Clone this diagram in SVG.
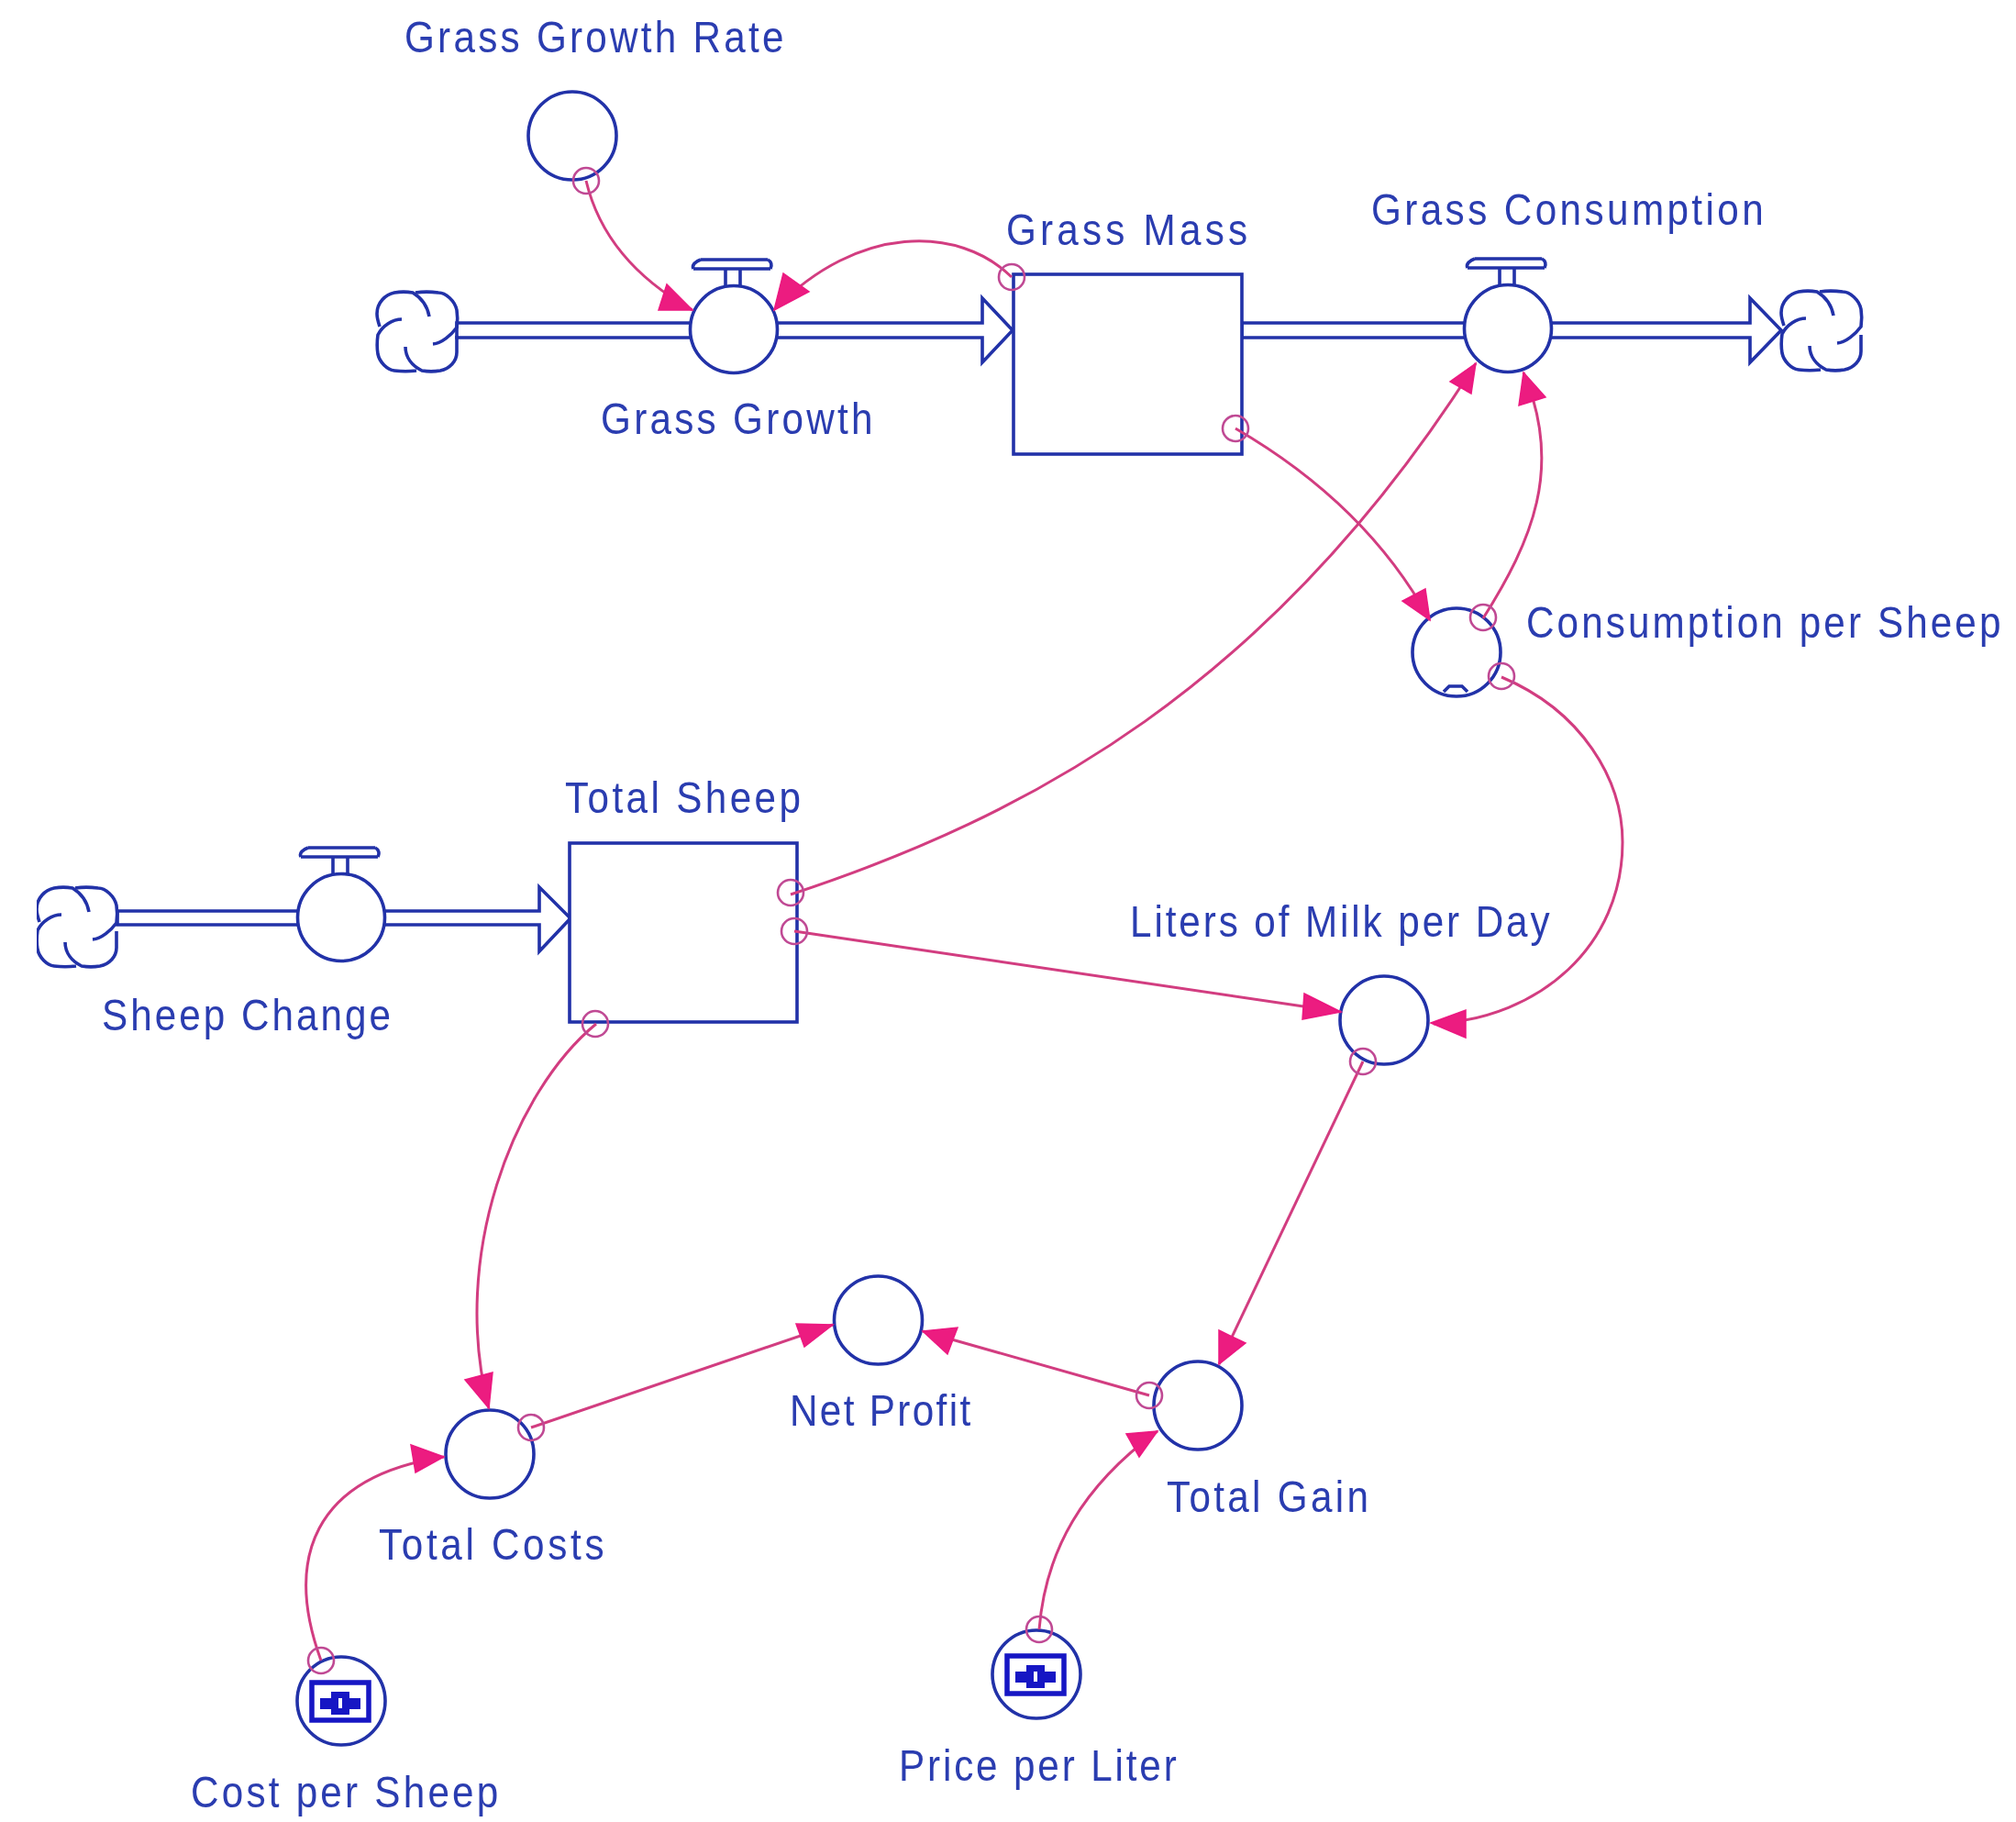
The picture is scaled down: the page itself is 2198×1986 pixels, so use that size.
<svg xmlns="http://www.w3.org/2000/svg" width="2198" height="1986" viewBox="0 0 2198 1986">
<style>
.s{fill:#fff;stroke:#2030a8;stroke-width:3.6}
.o{fill:none;stroke:#2030a8;stroke-width:3.6}
.t{font-family:"Liberation Sans",Arial,sans-serif;font-size:48px;fill:#2c3cb0}
.c{fill:none;stroke:#d23c80;stroke-width:3}
.m{fill:none;stroke:#c04a94;stroke-width:2.6}
.a{fill:#ec1a80;stroke:#ec1a80;stroke-width:1.5}
.k{fill:#1414c4}
.kr{fill:none;stroke:#1414c4;stroke-width:5.5}
</style>
<defs>
<filter id="soft" x="0" y="0" width="100%" height="100%"><feGaussianBlur stdDeviation="0.7"/></filter>
<g id="cloud"><path class="o" d="M68,35C66,24 60,15 50,9C44,8 36,8 30,9C20,11 11,20 11,32C11,36 12,40 14,46M38,38C28,38 17,45 12,55C11,62 11,70 12,76C14,85 22,93 30,94C38,95 46,95 54,94M42,68C42,80 50,89 60,94C66,95 74,95 80,94C90,92 98,84 98,74L98,56M72,65C82,64 92,55 98,47C99,40 99,34 98,28C96,18 86,9 78,9C70,8 60,8 53,9"/></g>
<g id="valve"><circle class="s" r="47.5"/><path class="o" d="M-36,-76H37M-44,-66H40M-44,-66C-46,-70 -42,-74 -36,-76M40,-66C42,-70 41,-74 37,-76M-9,-66V-46M7,-66V-46"/></g>
<g id="const"><circle class="s" r="48"/><rect class="kr" x="-32" y="-20" width="62" height="41"/><path class="k" d="M-23,-3H-11V-10H9V-3H21V9H9V15H-11V9H-23Z"/><rect x="-3" y="-3" width="4" height="11" fill="#fff"/></g>
</defs>
<rect width="2198" height="1986" fill="#fff"/>
<g filter="url(#soft)">
<g id="flows">
<path class="s" d="M498,352H1071V325L1104,360L1071,395V368H498Z"/>
<path class="s" d="M1354,352H1908V325L1942,360L1908,395V368H1354Z"/>
<path class="s" d="M128,993H588V967L622,1001L588,1037V1008H128Z"/>
</g>
<g id="clouds">
<use href="#cloud" transform="translate(400,310)"/>
<use href="#cloud" transform="translate(1931,309)"/>
<use href="#cloud" transform="translate(29,959)"/>
</g>
<g id="grass-growth-rate"><circle class="s" cx="624" cy="148" r="48"/><text class="t" transform="translate(441,57) scale(.88,1)" textLength="470">Grass Growth Rate</text></g>
<g id="grass-growth"><use href="#valve" transform="translate(800,359)"/><text class="t" transform="translate(655,473) scale(.88,1)" textLength="337">Grass Growth</text></g>
<g id="grass-mass"><rect class="s" x="1105" y="299" width="249" height="196"/><text class="t" transform="translate(1097,267) scale(.88,1)" textLength="299">Grass Mass</text></g>
<g id="grass-consumption"><use href="#valve" transform="translate(1644,358)"/><text class="t" transform="translate(1495,245) scale(.88,1)" textLength="486">Grass Consumption</text></g>
<g id="consumption-per-sheep"><circle class="s" cx="1588" cy="711" r="48"/><path class="o" d="M1574,754L1580,748H1594L1600,754"/><text class="t" transform="translate(1664,695) scale(.88,1)" textLength="588">Consumption per Sheep</text></g>
<g id="total-sheep"><rect class="s" x="621" y="919" width="248" height="195"/><text class="t" transform="translate(616,886) scale(.88,1)" textLength="292">Total Sheep</text></g>
<g id="sheep-change"><use href="#valve" transform="translate(372,1000)"/><text class="t" transform="translate(111,1123) scale(.88,1)" textLength="358">Sheep Change</text></g>
<g id="liters"><circle class="s" cx="1509" cy="1112" r="48"/><text class="t" transform="translate(1232,1021) scale(.88,1)" textLength="520">Liters of Milk per Day</text></g>
<g id="net-profit"><circle class="s" cx="957.5" cy="1439" r="48"/><text class="t" transform="translate(861,1554) scale(.88,1)" textLength="224">Net Profit</text></g>
<g id="total-gain"><circle class="s" cx="1306" cy="1532" r="48"/><text class="t" transform="translate(1272,1648) scale(.88,1)" textLength="250">Total Gain</text></g>
<g id="total-costs"><circle class="s" cx="534" cy="1585" r="48"/><text class="t" transform="translate(413,1700) scale(.88,1)" textLength="279">Total Costs</text></g>
<g id="cost-per-sheep"><use href="#const" transform="translate(372,1854)"/><text class="t" transform="translate(208,1970) scale(.88,1)" textLength="381">Cost per Sheep</text></g>
<g id="price-per-liter"><use href="#const" transform="translate(1130,1825)"/><text class="t" transform="translate(980,1941) scale(.88,1)" textLength="344">Price per Liter</text></g>
<g id="connectors">
<path class="c" d="M639,197Q660,285 755,338"/>
<path class="a" d="M755,338L727,310L718,338Z"/><circle class="m" cx="639" cy="197" r="14"/>
<path class="c" d="M1103,302C1045,245 935,245 846,336"/>
<path class="a" d="M844,338L854,298L882,318Z"/><circle class="m" cx="1103" cy="302" r="14"/>
<path class="c" d="M1347,467Q1490,550 1559,676"/>
<path class="a" d="M1559,676L1554,642L1529,655Z"/><circle class="m" cx="1347" cy="467" r="14"/>
<path class="c" d="M862,975C1120,890 1385,750 1609,396"/>
<path class="a" d="M1609,396L1581,416L1604,429Z"/><circle class="m" cx="862" cy="973" r="14"/>
<path class="c" d="M1617,674C1670,590 1705,510 1661,406"/>
<path class="a" d="M1661,406L1656,442L1685,433Z"/><circle class="m" cx="1617" cy="673" r="14"/>
<path class="c" d="M1637,738C1725,775 1769,850 1769,918C1769,1030 1680,1110 1563,1116"/>
<path class="a" d="M1560,1115L1598,1101L1598,1131Z"/><circle class="m" cx="1637" cy="737" r="14"/>
<path class="c" d="M866,1015L1462,1103"/>
<path class="a" d="M1462,1103L1422,1083L1420,1111Z"/><circle class="m" cx="866" cy="1015" r="14"/>
<path class="c" d="M1486,1157L1329,1487"/>
<path class="a" d="M1329,1487L1329,1450L1358,1464Z"/><circle class="m" cx="1486" cy="1157" r="14"/>
<path class="c" d="M650,1116C560,1190 490,1370 533,1535"/>
<path class="a" d="M533,1535L507,1504L537,1496Z"/><circle class="m" cx="649" cy="1116" r="14"/>
<path class="c" d="M579,1556L908,1444"/>
<path class="a" d="M908,1444L868,1443L877,1468Z"/><circle class="m" cx="579" cy="1556" r="14"/>
<path class="c" d="M1253,1521L1006,1451"/>
<path class="a" d="M1006,1451L1044,1447L1033,1476Z"/><circle class="m" cx="1253" cy="1521" r="14"/>
<path class="c" d="M350,1810C310,1700 340,1610 484,1588"/>
<path class="a" d="M484,1588L448,1575L453,1605Z"/><circle class="m" cx="350" cy="1810" r="14"/>
<path class="c" d="M1133,1776C1140,1690 1180,1620 1262,1560"/>
<path class="a" d="M1262,1560L1228,1563L1242,1588Z"/><circle class="m" cx="1133" cy="1776" r="14"/>
</g>
</g>
</svg>
